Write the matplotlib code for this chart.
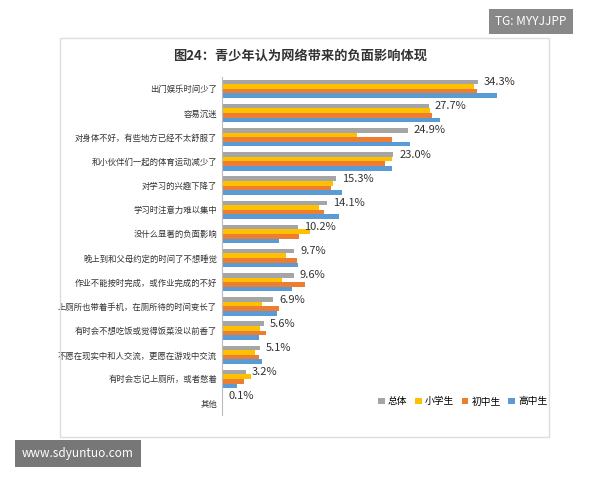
import matplotlib
matplotlib.use("Agg")
import matplotlib.pyplot as plt
import numpy as np

plt.rcParams["font.family"] = ["Noto Sans CJK SC", "DejaVu Sans"]

categories = ["出门娱乐时间少了", "容易沉迷", "对身体不好，有些地方已经不太舒服了",
              "和小伙伴们一起的体育运动减少了", "对学习的兴趣下降了", "学习时注意力难以集中",
              "没什么显著的负面影响", "晚上到和父母约定的时间了不想睡觉",
              "作业不能按时完成，或作业完成的不好", "上厕所也带着手机，在厕所待的时间变长了",
              "有时会不想吃饭或觉得饭菜没以前香了", "不愿在现实中和人交流，更愿在游戏中交流",
              "有时会忘记上厕所，或者憋着", "其他"]
total = [34.3, 27.7, 24.9, 23.0, 15.3, 14.1, 10.2, 9.7, 9.6, 6.9, 5.6, 5.1, 3.2, 0.1]
primary = [33.8, 27.9, 18.1, 22.8, 14.9, 13.0, 11.8, 8.6, 8.0, 5.4, 5.1, 4.4, 3.9, 0.1]
junior = [34.2, 28.2, 22.8, 21.9, 14.6, 13.7, 10.3, 10.1, 11.1, 7.7, 5.9, 5.0, 3.0, 0.1]
senior = [36.9, 29.2, 25.2, 22.8, 16.1, 15.7, 7.6, 10.2, 9.4, 7.4, 5.0, 5.4, 2.0, 0.1]
series_names = ["总体", "小学生", "初中生", "高中生"]
colors = ["#a5a5a5", "#ffc000", "#ed7d31", "#5b9bd5"]

fig = plt.figure(figsize=(6, 4.8), dpi=100)
fig.patch.set_facecolor("white")
fig.add_artist(plt.Rectangle((0.1, 0.09), 0.815, 0.83, transform=fig.transFigure,
                             fill=False, ec="#dddddd", lw=1))
ax = fig.add_axes([0.37, 0.135, 0.497, 0.705])
y = np.arange(len(categories))
h = 0.19
for i, (vals, c, n) in enumerate(zip([total, primary, junior, senior], colors, series_names)):
    ax.barh(y - 1.5 * h + i * h, vals, height=h, color=c, label=n)
for yi, v in zip(y, total):
    ax.text(v + 0.8, yi - 1.5 * h, f"{v}%", va="center", ha="left", fontsize=8, color="#333333")
ax.set_ylim(len(categories) - 0.5, -0.5)
ax.set_xlim(0, 40)
ax.set_yticks(y)
ax.set_yticklabels(categories, fontsize=6, color="#333333")
ax.tick_params(axis="y", length=0)
ax.set_xticks([])
for s in ["top", "right", "bottom"]:
    ax.spines[s].set_visible(False)
ax.spines["left"].set_color("#bbbbbb")
ax.legend(loc="lower right", bbox_to_anchor=(1.12, 0.0), ncol=4, frameon=False, fontsize=7,
          handlelength=0.7, handletextpad=0.3, columnspacing=0.8)
fig.text(0.5, 0.885, "图24：青少年认为网络带来的负面影响体现", ha="center", va="center",
         fontsize=9.5, fontweight="bold", color="#333333")
fig.text(0.885, 0.955, "TG: MYYJJPP", ha="center", va="center", fontsize=8.5, color="white",
         bbox=dict(boxstyle="square,pad=0.5", fc="#888888", ec="none"))
fig.text(0.13, 0.055, "www.sdyuntuo.com", ha="center", va="center", fontsize=8.5, color="white",
         bbox=dict(boxstyle="square,pad=0.6", fc="#777777", ec="none"))
fig.savefig("out.png", dpi=100)
